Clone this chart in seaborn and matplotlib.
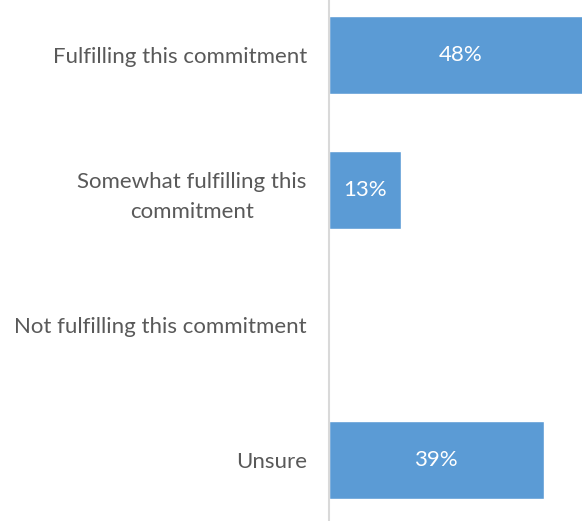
import matplotlib
matplotlib.use("Agg")
import matplotlib.pyplot as plt
import seaborn as sns
import pandas as pd

# Survey responses on the commitment
categories = [
    "Fulfilling this commitment",
    "Somewhat fulfilling this\ncommitment",
    "Not fulfilling this commitment",
    "Unsure",
]
shares = [48, 13, 0, 39]
value_labels = ["48%", "13%", "", "39%"]

sns.set_theme(style="white")
plt.rcParams["font.family"] = ["Lato", "DejaVu Sans"]

BAR_COLOR = "#5B9BD5"
TEXT_COLOR = "#595959"
FONT_SIZE = 16

df = pd.DataFrame({"category": categories, "share": shares})

fig = plt.figure(figsize=(5.82, 5.21), dpi=100)
ax = fig.add_axes([329 / 582, 0.0, 1 - 329 / 582, 1.0])

sns.barplot(data=df, x="share", y="category", orient="h", color=BAR_COLOR,
            saturation=1, width=0.575, ax=ax)

ax.set_xlim(0, 253 / 5.5)
ax.set_ylim(3.452, -0.407)

for i, (v, lab) in enumerate(zip(shares, value_labels)):
    if lab:
        ax.text(v / 2, i, lab, ha="center", va="center", color="white",
                fontsize=FONT_SIZE)

ax.set_xlabel("")
ax.set_ylabel("")
ax.set_xticks([])
ax.tick_params(axis="y", length=0, pad=16, labelsize=FONT_SIZE, labelcolor=TEXT_COLOR)
for lbl in ax.get_yticklabels():
    lbl.set_multialignment("center")
    lbl.set_linespacing(1.6)

for side in ["top", "right", "bottom"]:
    ax.spines[side].set_visible(False)
ax.spines["left"].set_color("#D9D9D9")
ax.spines["left"].set_linewidth(1.5)

fig.savefig("out.png", dpi=100)
